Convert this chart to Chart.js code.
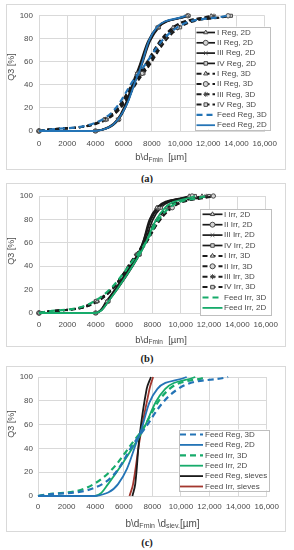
<!DOCTYPE html>
<html>
<head>
<meta charset="utf-8">
<script src="https://cdn.jsdelivr.net/npm/chart.js@4.4.1/dist/chart.umd.min.js"></script>
<style>
  html, body { margin: 0; padding: 0; background: #fff; }
  body { width: 294px; height: 550px; position: relative; overflow: hidden; }
  .panel { position: absolute; left: 6px; width: 280px; box-sizing: border-box; border: 1px solid #d9d9d9; background: #fff; }
  .panel canvas { position: absolute; left: 0; top: 0; }
  .cap { position: absolute; left: 0; width: 294px; text-align: center; line-height: 12px;
         font: bold 10.5px 'Liberation Serif', 'DejaVu Serif', serif; color: #222; }
</style>
</head>
<body>
<div class="panel" style="top:4px;height:166px"><canvas id="chartA" width="278" height="164"></canvas></div>
<div class="cap" style="top:173px">(a)</div>
<div class="panel" style="top:183px;height:164px"><canvas id="chartB" width="278" height="162"></canvas></div>
<div class="cap" style="top:353px">(b)</div>
<div class="panel" style="top:366px;height:166px"><canvas id="chartC" width="278" height="164"></canvas></div>
<div class="cap" style="top:537px">(c)</div>

<script>
// Q3 levels the particle sizes were read at
var q3Levels2D = [0, 0, 10, 50, 90, 100];
var q3Levels3D = [0, 10, 50, 90, 100];
var q3LevelsSieve = [0, 10, 50, 90, 100];

// axis ticks
var xTickLabels = ['0', '2000', '4000', '6000', '8000', '10,000', '12,000', '14,000', '16,000'];

// (a) regular particles, size in um at each Q3 level
var regI2D = [0, 4000, 5600, 6950, 8400, 10500];
var regII2D = [0, 4000, 5650, 7000, 8450, 10550];
var regIII2D = [0, 4000, 5550, 6900, 8350, 10450];
var regIV2D = [0, 4000, 5600, 7050, 8500, 10600];
var regI3D = [0, 4600, 7100, 9500, 12200];
var regII3D = [0, 4700, 7300, 9800, 13400];
var regIII3D = [0, 4650, 7200, 9600, 12400];
var regIV3D = [0, 4800, 7400, 10000, 13600];
var feedReg3D = [0, 4500, 7050, 9800, 13300];
var feedReg2D = [0, 4000, 5600, 7050, 8350, 10400];

// (b) irregular particles
var irrI2D = [0, 4000, 4800, 7000, 8300, 10600];
var irrII2D = [0, 4000, 4850, 7050, 8400, 10800];
var irrIII2D = [0, 4000, 4750, 6950, 8450, 10700];
var irrIV2D = [0, 4000, 4900, 7100, 8600, 11000];
var irrI3D = [0, 4100, 6900, 9000, 11500];
var irrII3D = [0, 4050, 6950, 9400, 12300];
var irrIII3D = [0, 4150, 6850, 9100, 11800];
var irrIV3D = [0, 4000, 7000, 9300, 12000];
var feedIrr3D = [0, 3900, 6950, 9200, 11800];
var feedIrr2D = [0, 4000, 4900, 7100, 8900, 11000];

// (c) sieve analysis of the feeds
var feedRegSieve = [6600, 6800, 7100, 7600, 7900];
var feedIrrSieve = [6400, 6650, 7150, 7800, 8050];

var FONT = "'Liberation Sans', Arial, sans-serif";
var BLACK = '#1a1a1a';
var BLUE = '#2474b6';
var GREEN = '#17ab6b';
var RED = '#a3372f';
var MARK_FILL = '#d4d4d4';
var MARK_LINE = '#4a4a4a';
var TEXT = '#4a4a4a';

Chart.defaults.font.family = FONT;

function toPoints(xs, levels) {
    return xs.map(function(x, i) { return { x: x, y: levels[i] }; });
}

function markedLine(label, xs, levels, marker, dashed) {
    return {
        label: label, data: toPoints(xs, levels),
        borderColor: BLACK, borderWidth: dashed ? 2 : 1.7, borderDash: dashed ? [5, 3] : [],
        tension: 0.4, clip: 4, order: 1,
        pointStyle: marker, pointRadius: 2.2, pointBorderWidth: 1,
        pointBackgroundColor: MARK_FILL, pointBorderColor: MARK_LINE
    };
}

function plainLine(label, xs, levels, color, dashed) {
    return {
        label: label, data: toPoints(xs, levels),
        borderColor: color, borderWidth: dashed ? 2.2 : 1.8, borderDash: dashed ? [6, 4] : [],
        tension: 0.4, clip: 4, order: 0, pointRadius: 0
    };
}

// legend drawn inside the plot, in a white box
var boxLegend = {
    id: 'boxLegend',
    afterDatasetsDraw: function(chart, args, o) {
        var ctx = chart.ctx;
        ctx.save();
        ctx.fillStyle = '#fff';
        ctx.fillRect(o.left, o.top, o.right - o.left, o.bottom - o.top);
        ctx.strokeStyle = '#bfbfbf';
        ctx.lineWidth = 1;
        ctx.strokeRect(Math.round(o.left) + 0.5, Math.round(o.top) + 0.5, Math.round(o.right - o.left), Math.round(o.bottom - o.top));
        ctx.font = '8px ' + FONT;
        ctx.textBaseline = 'middle';
        chart.data.datasets.forEach(function(ds, i) {
            var y = o.firstRow + i * o.rowGap;
            ctx.strokeStyle = ds.borderColor;
            ctx.lineWidth = ds.borderWidth;
            ctx.setLineDash(ds.borderDash || []);
            ctx.beginPath();
            ctx.moveTo(o.lineFrom, y);
            ctx.lineTo(o.lineTo, y);
            ctx.stroke();
            ctx.setLineDash([]);
            if (ds.pointRadius > 0) {
                ctx.fillStyle = ds.pointBackgroundColor;
                ctx.strokeStyle = ds.pointBorderColor;
                ctx.lineWidth = 1;
                Chart.helpers.drawPoint(ctx, { pointStyle: ds.pointStyle, radius: 2.5, borderWidth: 1, rotation: 0 }, (o.lineFrom + o.lineTo) / 2, y);
            }
            ctx.fillStyle = TEXT;
            ctx.fillText(ds.label, o.textX, y);
        });
        ctx.restore();
    }
};

// axis titles, the x one carries subscripts
var axisTitles = {
    id: 'axisTitles',
    afterDraw: function(chart, args, o) {
        var ctx = chart.ctx;
        ctx.save();
        ctx.fillStyle = TEXT;
        ctx.font = '9px ' + FONT;
        ctx.translate(o.yX, o.yY);
        ctx.rotate(-Math.PI / 2);
        ctx.textAlign = 'center';
        ctx.textBaseline = 'middle';
        ctx.fillText('Q3 [%]', 0, 0);
        ctx.restore();

        ctx.save();
        ctx.fillStyle = TEXT;
        ctx.textBaseline = 'alphabetic';
        var total = 0;
        var widths = o.parts.map(function(p) {
            ctx.font = (p.sub ? o.subSize : o.mainSize) + 'px ' + FONT;
            var w = ctx.measureText(p.text).width;
            total += w;
            return w;
        });
        var x = o.xX - total / 2;
        o.parts.forEach(function(p, i) {
            ctx.font = (p.sub ? o.subSize : o.mainSize) + 'px ' + FONT;
            ctx.fillText(p.text, x, o.xY + (p.sub ? 1.5 : 0));
            x += widths[i];
        });
        ctx.restore();
    }
};

function makeChart(id, datasets, lay) {
    return new Chart(document.getElementById(id), {
        type: 'line',
        data: { datasets: datasets },
        plugins: [boxLegend, axisTitles],
        options: {
            responsive: false, animation: false, events: [],
            layout: { padding: { left: 0, top: lay.top, right: lay.right, bottom: 0 } },
            scales: {
                x: {
                    type: 'linear', min: 0, max: 16000,
                    ticks: { stepSize: 2000, autoSkip: false, maxRotation: 0, padding: lay.xPad, color: TEXT, font: { size: 8 },
                             callback: function(v, i) { return xTickLabels[i]; } },
                    grid: { color: '#d9d9d9', drawTicks: false },
                    border: { color: '#d9d9d9' },
                    afterFit: function(s) { s.height = lay.xHeight; }
                },
                y: {
                    min: 0, max: 100,
                    ticks: { stepSize: 10, padding: lay.yPad, color: TEXT, font: { size: 8 } },
                    grid: { color: '#d9d9d9', drawTicks: false },
                    border: { color: '#d9d9d9' },
                    afterFit: function(s) { s.width = lay.yWidth; }
                }
            },
            plugins: {
                legend: { display: false },
                tooltip: { enabled: false },
                boxLegend: lay.legend,
                axisTitles: lay.titles
            }
        }
    });
}

var xTitleFmin = [{ text: 'b\\d' }, { text: 'Fmin', sub: true }, { text: '  [\u00b5m]' }];
var xTitleSieve = [{ text: 'b\\d' }, { text: 'Fmin', sub: true }, { text: ' \\d' }, { text: 'siev.', sub: true }, { text: '[\u00b5m]' }];

makeChart('chartA', [
    markedLine('I Reg, 2D', regI2D, q3Levels2D, 'triangle', false),
    markedLine('II Reg, 2D', regII2D, q3Levels2D, 'circle', false),
    markedLine('III Reg, 2D', regIII2D, q3Levels2D, 'crossRot', false),
    markedLine('IV Reg, 2D', regIV2D, q3Levels2D, 'rect', false),
    markedLine('I Reg, 3D', regI3D, q3Levels3D, 'triangle', true),
    markedLine('II Reg, 3D', regII3D, q3Levels3D, 'circle', true),
    markedLine('III Reg, 3D', regIII3D, q3Levels3D, 'star', true),
    markedLine('IV Reg, 3D', regIV3D, q3Levels3D, 'rect', true),
    plainLine('Feed Reg, 3D', feedReg3D, q3Levels3D, BLUE, true),
    plainLine('Feed Reg, 2D', feedReg2D, q3Levels2D, BLUE, false)
], {
    top: 9, right: 15, xHeight: 38, yWidth: 32, xPad: 8, yPad: 6,
    legend: { left: 188, top: 21.5, right: 263, bottom: 124.5, firstRow: 27.5, rowGap: 10.3, lineFrom: 189.5, lineTo: 208, textX: 210 },
    titles: { yX: 4.5, yY: 62, xX: 154, xY: 155, mainSize: 9.5, subSize: 6.5, parts: xTitleFmin }
});

makeChart('chartB', [
    markedLine('I Irr, 2D', irrI2D, q3Levels2D, 'triangle', false),
    markedLine('II Irr, 2D', irrII2D, q3Levels2D, 'circle', false),
    markedLine('III Irr, 2D', irrIII2D, q3Levels2D, 'crossRot', false),
    markedLine('IV Irr, 2D', irrIV2D, q3Levels2D, 'rect', false),
    markedLine('I Irr, 3D', irrI3D, q3Levels3D, 'triangle', true),
    markedLine('II Irr, 3D', irrII3D, q3Levels3D, 'circle', true),
    markedLine('III Irr, 3D', irrIII3D, q3Levels3D, 'star', true),
    markedLine('IV Irr, 3D', irrIV3D, q3Levels3D, 'rect', true),
    plainLine('Feed Irr, 3D', feedIrr3D, q3Levels3D, GREEN, true),
    plainLine('Feed Irr, 2D', feedIrr2D, q3Levels2D, GREEN, false)
], {
    top: 12, right: 14, xHeight: 33, yWidth: 32, xPad: 7, yPad: 6,
    legend: { left: 193, top: 25, right: 264, bottom: 131, firstRow: 30.3, rowGap: 10.4, lineFrom: 195.5, lineTo: 215.5, textX: 217 },
    titles: { yX: 4.5, yY: 67, xX: 154, xY: 158.5, mainSize: 9.5, subSize: 6.5, parts: xTitleFmin }
});

makeChart('chartC', [
    plainLine('Feed Reg, 3D', feedReg3D, q3Levels3D, BLUE, true),
    plainLine('Feed Reg, 2D', feedReg2D, q3Levels2D, BLUE, false),
    plainLine('Feed Irr, 3D', feedIrr3D, q3Levels3D, GREEN, true),
    plainLine('Feed Irr, 2D', feedIrr2D, q3Levels2D, GREEN, false),
    plainLine('Feed Reg, sieves', feedRegSieve, q3LevelsSieve, BLACK, false),
    plainLine('Feed Irr, sieves', feedIrrSieve, q3LevelsSieve, RED, false)
], {
    top: 10, right: 11, xHeight: 35, yWidth: 31, xPad: 6, yPad: 5,
    legend: { left: 171.5, top: 62.5, right: 261, bottom: 123.5, firstRow: 67.5, rowGap: 10.4, lineFrom: 173, lineTo: 196, textX: 198 },
    titles: { yX: 4.5, yY: 57, xX: 155.5, xY: 159.5, mainSize: 10, subSize: 7, parts: xTitleSieve }
});
</script>
</body>
</html>
